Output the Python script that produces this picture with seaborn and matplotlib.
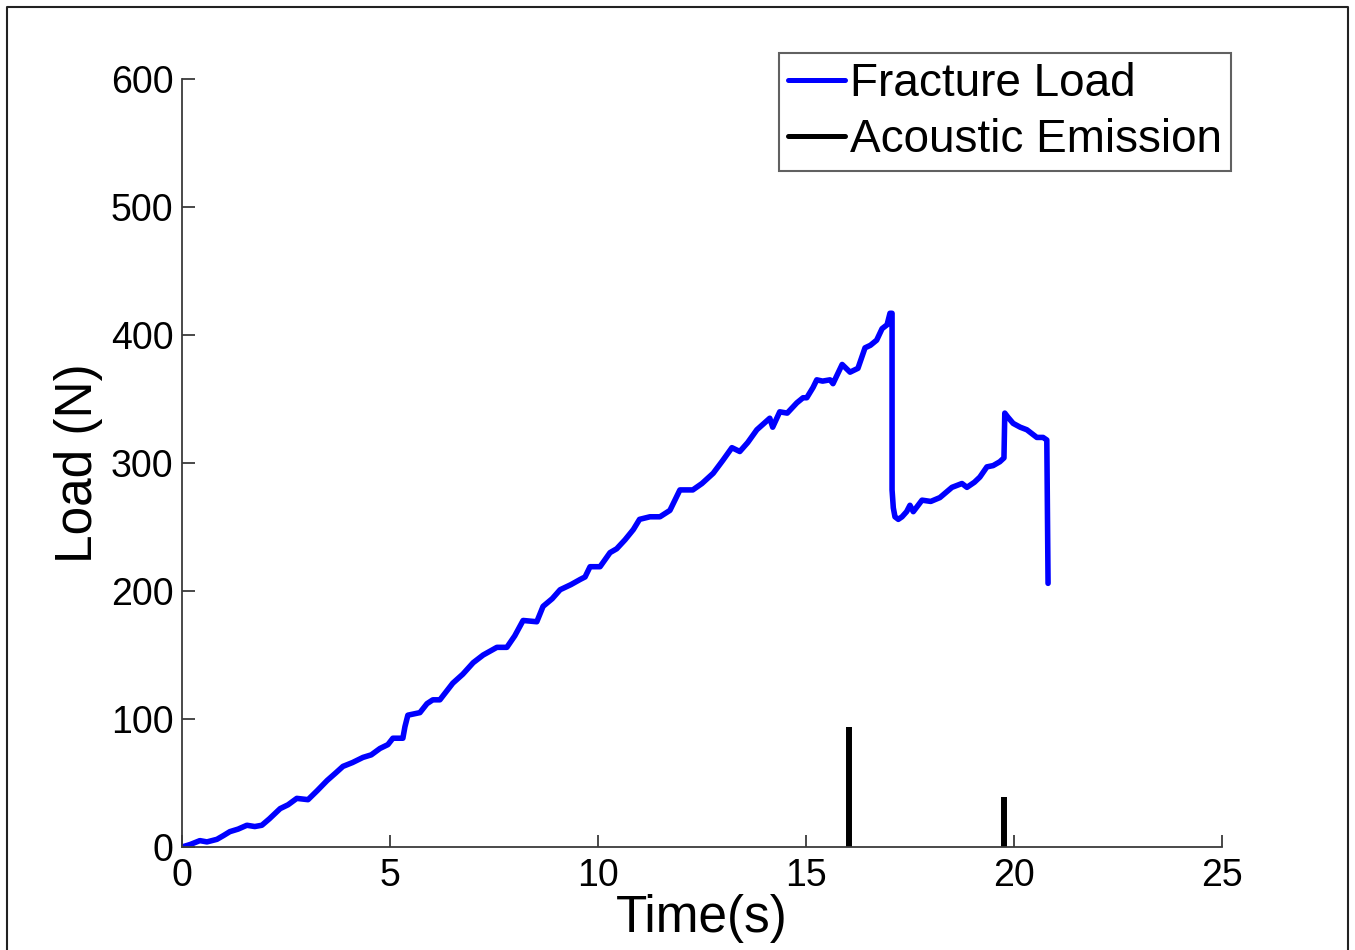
import numpy as np
import pandas as pd
import matplotlib
matplotlib.use("Agg")
import matplotlib.pyplot as plt
import seaborn as sns
from matplotlib.lines import Line2D

# ==========================================
# DATA
# ==========================================
time_s = [0.00, 0.20, 0.43, 0.60, 0.84, 1.00, 1.15, 1.35, 1.56, 1.75, 1.92, 2.10,
          2.36, 2.55, 2.76, 3.03, 3.25, 3.49, 3.70, 3.87, 4.10, 4.35, 4.55, 4.76,
          4.95, 5.07, 5.31, 5.36, 5.43, 5.72, 5.89, 6.03, 6.20, 6.51, 6.75, 7.00,
          7.24, 7.57, 7.81, 8.00, 8.20, 8.53, 8.68, 8.90, 9.09, 9.35, 9.57, 9.69,
          9.81, 10.05, 10.29, 10.45, 10.65, 10.85, 11.00, 11.25, 11.49, 11.73, 11.97,
          12.28, 12.50, 12.77, 13.00, 13.22, 13.41, 13.60, 13.82, 14.13, 14.20, 14.37,
          14.55, 14.78, 14.93, 15.02, 15.17, 15.26, 15.40, 15.58, 15.65, 15.87, 16.06,
          16.25, 16.42, 16.55, 16.70, 16.83, 16.95, 17.02, 17.07, 17.07, 17.10, 17.14,
          17.22, 17.31, 17.42, 17.50, 17.58, 17.79, 18.00, 18.22, 18.51, 18.75, 18.87,
          19.05, 19.18, 19.35, 19.50, 19.66, 19.76, 19.78, 19.85, 19.98, 20.15, 20.31,
          20.55, 20.70, 20.79, 20.82]
load_n = [0, 2, 5, 4, 6, 9, 12, 14, 17, 16, 17, 22,
          30, 33, 38, 37, 44, 52, 58, 63, 66, 70, 72, 77,
          80, 85, 85, 94, 103, 105, 112, 115, 115, 128, 135, 144,
          150, 156, 156, 165, 177, 176, 188, 194, 201, 205, 209, 211,
          219, 219, 230, 233, 240, 248, 256, 258, 258, 263, 279,
          279, 284, 292, 302, 312, 309, 316, 326, 335, 328, 340,
          339, 347, 351, 351, 359, 365, 364, 365, 362, 377, 371,
          374, 390, 392, 396, 405, 408, 417, 417, 279, 265, 258,
          256, 258, 262, 267, 262, 271, 270, 273, 281, 284, 281,
          285, 289, 297, 298, 301, 304, 339, 336, 331, 328, 326,
          320, 320, 318, 206]

ae_time = [16.03, 19.76]
ae_amp = [94, 39]

x_ticks = [0, 5, 10, 15, 20, 25]
y_ticks = [0, 100, 200, 300, 400, 500, 600]

df = pd.DataFrame({"Time": time_s, "Load": load_n})

# ==========================================
# STYLE
# ==========================================
sns.set_style("white")
plt.rcParams["font.family"] = ["Liberation Sans", "DejaVu Sans"]
plt.rcParams["text.color"] = "black"
plt.rcParams["axes.labelcolor"] = "black"
plt.rcParams["xtick.direction"] = "in"
plt.rcParams["ytick.direction"] = "in"
plt.rcParams["xtick.bottom"] = True
plt.rcParams["ytick.left"] = True
axis_col = "#3a3a3a"

fig = plt.figure(figsize=(13.55, 9.5), dpi=100)
ax = fig.add_axes([0.1343, 0.1084, 0.7675, 0.8084])

sns.lineplot(data=df, x="Time", y="Load", sort=False, estimator=None,
             color="#0000ff", linewidth=4.0, ax=ax)
ax.vlines(ae_time, 0, ae_amp, colors="black", linewidth=4.3)

ax.set_xlim(0, 25)
ax.set_ylim(0, 600)
ax.set_xticks(x_ticks)
ax.set_yticks(y_ticks)
ax.tick_params(axis="both", which="major", bottom=True, left=True,
               direction="in", length=9, width=1.3, color=axis_col,
               labelcolor="black", labelsize=27)
ax.tick_params(axis="x", pad=8)
ax.tick_params(axis="y", pad=6)
for s in ["top", "right"]:
    ax.spines[s].set_visible(False)
for s in ["left", "bottom"]:
    ax.spines[s].set_color(axis_col)
    ax.spines[s].set_linewidth(1.3)

ax.set_xlabel("Time(s)", fontsize=37, labelpad=0, color="black")
ax.set_ylabel("Load (N)", fontsize=37, labelpad=6, color="black")

handles = [Line2D([], [], color="#0000ff", linewidth=3.6),
           Line2D([], [], color="black", linewidth=3.6)]
leg = fig.legend(handles, ["Fracture Load", "Acoustic Emission"],
                 loc="upper right", bbox_to_anchor=(1231 / 1355, 1 - 53 / 950),
                 fontsize=33, frameon=True, fancybox=False, handlelength=1.25,
                 handletextpad=0.1, borderpad=0.2, labelspacing=0.25,
                 borderaxespad=0)
leg.get_frame().set_edgecolor(axis_col)
leg.get_frame().set_linewidth(1.5)
for t in leg.get_texts():
    t.set_color("black")

# thin frame around the figure, as in the reference
fx0, fx1, fy1 = 7 / 1355, 1348 / 1355, 1 - 7 / 950
fig.add_artist(Line2D([fx0, fx0, fx1, fx1], [0, fy1, fy1, 0],
                      transform=fig.transFigure, color="#222222", linewidth=1.5))

fig.savefig("out.png", dpi=100)
